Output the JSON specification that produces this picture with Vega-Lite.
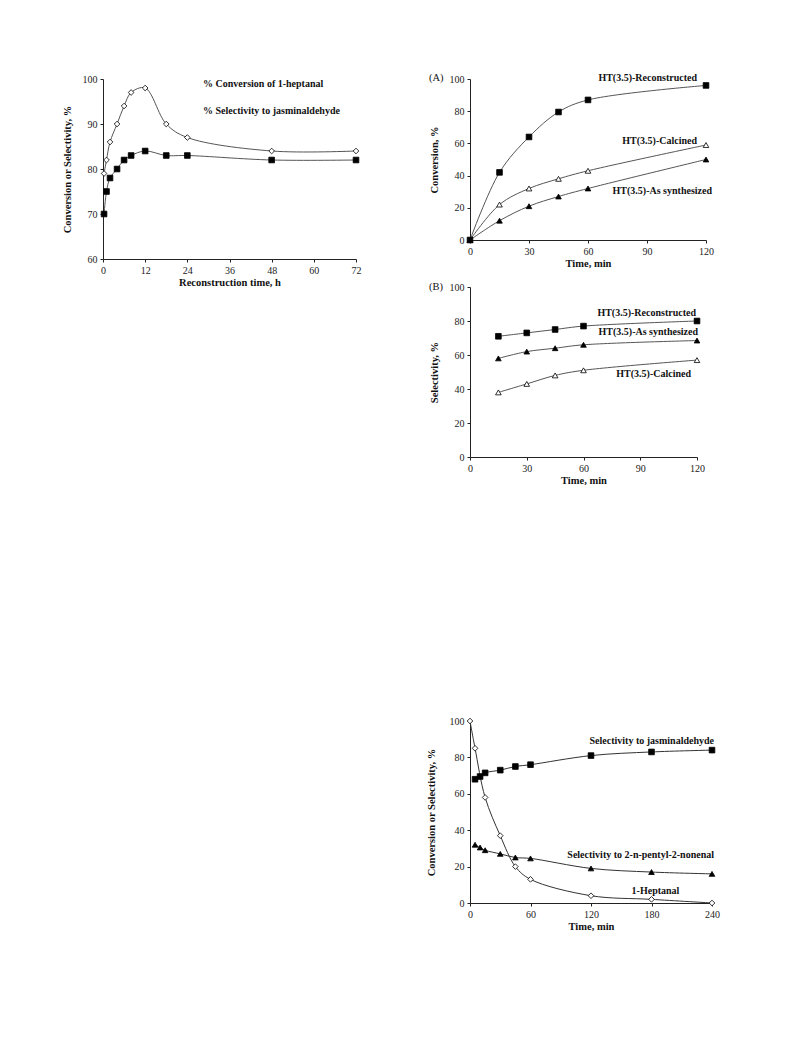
{
  "$schema": "https://vega.github.io/schema/vega-lite/v6.json",
  "background": "white",
  "padding": {"left": 62, "top": 72, "right": 5, "bottom": 5},
  "autosize": {"type": "pad"},
  "config": {
    "view": {"stroke": null},
    "axis": {"grid": false, "domainColor": "#222", "tickColor": "#222", "tickSize": 3, "labelPadding": 3, "labelFont": "Liberation Serif", "labelFontSize": 10, "labelColor": "#222", "labelFlush": false, "labelOverlap": false, "titleFont": "Liberation Serif", "titleFontSize": 10.5, "titleFontWeight": "bold", "titleColor": "#111"},
    "axisX": {"titlePadding": 2},
    "axisY": {"titlePadding": 10},
    "legend": {"orient": "none", "legendX": 76, "legendY": -6, "padding": 0, "symbolSize": 400, "rowPadding": 2, "labelOffset": 3, "labelFont": "Liberation Serif", "labelFontWeight": "bold", "labelFontSize": 10, "labelColor": "#111", "symbolStrokeWidth": 1, "symbolStrokeColor": "black"},
    "text": {"font": "Liberation Serif", "fontWeight": "bold", "fontSize": 10, "color": "#111"},
    "title": {"font": "Liberation Serif", "fontWeight": "normal", "fontSize": 10.5, "color": "#111", "anchor": "start", "frame": "bounds"}
  },
  "resolve": {"scale": {"shape": "independent", "fill": "independent"}, "legend": {"shape": "independent", "fill": "independent"}},
  "datasets": {
    "p1": [
      {"t": 0.3, "v": 79, "s": "% Conversion of 1-heptanal"},
      {"t": 1, "v": 82, "s": "% Conversion of 1-heptanal"},
      {"t": 2, "v": 86, "s": "% Conversion of 1-heptanal"},
      {"t": 4, "v": 90, "s": "% Conversion of 1-heptanal"},
      {"t": 6, "v": 94, "s": "% Conversion of 1-heptanal"},
      {"t": 8, "v": 97, "s": "% Conversion of 1-heptanal"},
      {"t": 12, "v": 98, "s": "% Conversion of 1-heptanal"},
      {"t": 18, "v": 90, "s": "% Conversion of 1-heptanal"},
      {"t": 24, "v": 87, "s": "% Conversion of 1-heptanal"},
      {"t": 48, "v": 84, "s": "% Conversion of 1-heptanal"},
      {"t": 72, "v": 84, "s": "% Conversion of 1-heptanal"},
      {"t": 0.3, "v": 70, "s": "% Selectivity to jasminaldehyde"},
      {"t": 1, "v": 75, "s": "% Selectivity to jasminaldehyde"},
      {"t": 2, "v": 78, "s": "% Selectivity to jasminaldehyde"},
      {"t": 4, "v": 80, "s": "% Selectivity to jasminaldehyde"},
      {"t": 6, "v": 82, "s": "% Selectivity to jasminaldehyde"},
      {"t": 8, "v": 83, "s": "% Selectivity to jasminaldehyde"},
      {"t": 12, "v": 84, "s": "% Selectivity to jasminaldehyde"},
      {"t": 18, "v": 83, "s": "% Selectivity to jasminaldehyde"},
      {"t": 24, "v": 83, "s": "% Selectivity to jasminaldehyde"},
      {"t": 48, "v": 82, "s": "% Selectivity to jasminaldehyde"},
      {"t": 72, "v": 82, "s": "% Selectivity to jasminaldehyde"}
    ],
    "p2": [
      {"t": 0, "v": 0, "s": "HT(3.5)-Reconstructed"},
      {"t": 15, "v": 42, "s": "HT(3.5)-Reconstructed"},
      {"t": 30, "v": 64, "s": "HT(3.5)-Reconstructed"},
      {"t": 45, "v": 79.5, "s": "HT(3.5)-Reconstructed"},
      {"t": 60, "v": 87, "s": "HT(3.5)-Reconstructed"},
      {"t": 120, "v": 96, "s": "HT(3.5)-Reconstructed"},
      {"t": 0, "v": 0, "s": "HT(3.5)-Calcined"},
      {"t": 15, "v": 22, "s": "HT(3.5)-Calcined"},
      {"t": 30, "v": 32, "s": "HT(3.5)-Calcined"},
      {"t": 45, "v": 38, "s": "HT(3.5)-Calcined"},
      {"t": 60, "v": 43, "s": "HT(3.5)-Calcined"},
      {"t": 120, "v": 59, "s": "HT(3.5)-Calcined"},
      {"t": 0, "v": 0, "s": "HT(3.5)-As synthesized"},
      {"t": 15, "v": 12, "s": "HT(3.5)-As synthesized"},
      {"t": 30, "v": 21, "s": "HT(3.5)-As synthesized"},
      {"t": 45, "v": 27, "s": "HT(3.5)-As synthesized"},
      {"t": 60, "v": 32, "s": "HT(3.5)-As synthesized"},
      {"t": 120, "v": 50, "s": "HT(3.5)-As synthesized"}
    ],
    "p3": [
      {"t": 15, "v": 71, "s": "HT(3.5)-Reconstructed"},
      {"t": 30, "v": 73, "s": "HT(3.5)-Reconstructed"},
      {"t": 45, "v": 75, "s": "HT(3.5)-Reconstructed"},
      {"t": 60, "v": 77, "s": "HT(3.5)-Reconstructed"},
      {"t": 120, "v": 80, "s": "HT(3.5)-Reconstructed"},
      {"t": 15, "v": 58, "s": "HT(3.5)-As synthesized"},
      {"t": 30, "v": 62, "s": "HT(3.5)-As synthesized"},
      {"t": 45, "v": 64, "s": "HT(3.5)-As synthesized"},
      {"t": 60, "v": 66, "s": "HT(3.5)-As synthesized"},
      {"t": 120, "v": 68.5, "s": "HT(3.5)-As synthesized"},
      {"t": 15, "v": 38, "s": "HT(3.5)-Calcined"},
      {"t": 30, "v": 43, "s": "HT(3.5)-Calcined"},
      {"t": 45, "v": 48, "s": "HT(3.5)-Calcined"},
      {"t": 60, "v": 51, "s": "HT(3.5)-Calcined"},
      {"t": 120, "v": 57, "s": "HT(3.5)-Calcined"}
    ],
    "p4": [
      {"t": 0, "v": 100, "s": "1-Heptanal"},
      {"t": 5, "v": 85, "s": "1-Heptanal"},
      {"t": 15, "v": 58, "s": "1-Heptanal"},
      {"t": 30, "v": 37, "s": "1-Heptanal"},
      {"t": 45, "v": 20, "s": "1-Heptanal"},
      {"t": 60, "v": 13, "s": "1-Heptanal"},
      {"t": 120, "v": 4, "s": "1-Heptanal"},
      {"t": 180, "v": 2, "s": "1-Heptanal"},
      {"t": 240, "v": 0, "s": "1-Heptanal"},
      {"t": 5, "v": 68, "s": "Selectivity to jasminaldehyde"},
      {"t": 10, "v": 69.5, "s": "Selectivity to jasminaldehyde"},
      {"t": 15, "v": 71.5, "s": "Selectivity to jasminaldehyde"},
      {"t": 30, "v": 73, "s": "Selectivity to jasminaldehyde"},
      {"t": 45, "v": 75, "s": "Selectivity to jasminaldehyde"},
      {"t": 60, "v": 76, "s": "Selectivity to jasminaldehyde"},
      {"t": 120, "v": 81, "s": "Selectivity to jasminaldehyde"},
      {"t": 180, "v": 83, "s": "Selectivity to jasminaldehyde"},
      {"t": 240, "v": 84, "s": "Selectivity to jasminaldehyde"},
      {"t": 5, "v": 32, "s": "Selectivity to 2-n-pentyl-2-nonenal"},
      {"t": 10, "v": 30.5, "s": "Selectivity to 2-n-pentyl-2-nonenal"},
      {"t": 15, "v": 29, "s": "Selectivity to 2-n-pentyl-2-nonenal"},
      {"t": 30, "v": 27, "s": "Selectivity to 2-n-pentyl-2-nonenal"},
      {"t": 45, "v": 25, "s": "Selectivity to 2-n-pentyl-2-nonenal"},
      {"t": 60, "v": 24.5, "s": "Selectivity to 2-n-pentyl-2-nonenal"},
      {"t": 120, "v": 19, "s": "Selectivity to 2-n-pentyl-2-nonenal"},
      {"t": 180, "v": 17, "s": "Selectivity to 2-n-pentyl-2-nonenal"},
      {"t": 240, "v": 16, "s": "Selectivity to 2-n-pentyl-2-nonenal"}
    ]
  },
  "columns": 2,
  "spacing": {"row": 28, "column": 114},
  "bounds": "flush",
  "align": "each",
  "concat": [
    {
      "width": 253, "height": 180,
      "data": {"name": "p1"},
      "encoding": {
        "x": {"field": "t", "type": "quantitative", "scale": {"domain": [0, 72], "nice": false}, "axis": {"values": [0, 12, 24, 36, 48, 60, 72], "title": "Reconstruction time, h"}},
        "y": {"field": "v", "type": "quantitative", "scale": {"domain": [60, 100], "nice": false}, "axis": {"values": [60, 70, 80, 90, 100], "title": "Conversion or Selectivity, %"}}
      },
      "layer": [
        {"mark": {"type": "line", "interpolate": "catmull-rom", "color": "#555", "strokeWidth": 1}, "encoding": {"detail": {"field": "s"}}},
        {"mark": {"type": "point", "filled": true, "stroke": "black", "strokeWidth": 0.8, "size": 32, "opacity": 1},
         "encoding": {
           "shape": {"field": "s", "type": "nominal", "scale": {"domain": ["% Conversion of 1-heptanal", "% Selectivity to jasminaldehyde"], "range": ["diamond", "square"]},
             "legend": {"title": null,
               "encode": {"symbols": {
                 "shape": {"value": {"expr": "datum.value === '% Conversion of 1-heptanal' ? 'M-1,0H-0.25M0.25,0H1M-0.25,0L0,-0.25L0.25,0L0,0.25Z' : 'M-1,0H-0.22M0.22,0H1M-0.22,-0.22H0.22V0.22H-0.22Z'"}},
                 "fill": {"value": {"expr": "datum.value === '% Conversion of 1-heptanal' ? 'white' : 'black'"}},
                 "stroke": {"value": "black"},
                 "strokeWidth": {"value": 1}
               }}}},
           "fill": {"condition": {"test": "datum.s === '% Selectivity to jasminaldehyde'", "value": "black"}, "value": "white"}
         }}
      ]
    },
    {
      "width": 236, "height": 161,
      "title": {"text": "(A)", "offset": -10},
      "data": {"name": "p2"},
      "encoding": {
        "x": {"field": "t", "type": "quantitative", "scale": {"domain": [0, 120], "nice": false}, "axis": {"values": [0, 30, 60, 90, 120], "title": "Time, min"}},
        "y": {"field": "v", "type": "quantitative", "scale": {"domain": [0, 100], "nice": false}, "axis": {"values": [0, 20, 40, 60, 80, 100], "title": "Conversion, %"}}
      },
      "layer": [
        {"mark": {"type": "line", "interpolate": "catmull-rom", "color": "#555", "strokeWidth": 1}, "encoding": {"detail": {"field": "s"}}},
        {"mark": {"type": "point", "filled": true, "stroke": "black", "strokeWidth": 0.8, "size": 32, "opacity": 1},
         "encoding": {
           "shape": {"field": "s", "type": "nominal", "scale": {"domain": ["HT(3.5)-Reconstructed", "HT(3.5)-Calcined", "HT(3.5)-As synthesized"], "range": ["square", "triangle-up", "triangle-up"]}, "legend": null},
           "fill": {"field": "s", "type": "nominal", "scale": {"domain": ["HT(3.5)-Reconstructed", "HT(3.5)-Calcined", "HT(3.5)-As synthesized"], "range": ["black", "white", "black"]}, "legend": null}
         }},
        {"transform": [{"filter": "datum.t == 120 && datum.s == 'HT(3.5)-Reconstructed'"}], "mark": {"type": "text", "align": "right", "baseline": "middle", "dx": -9, "dy": -7}, "encoding": {"text": {"field": "s"}}},
        {"transform": [{"filter": "datum.t == 120 && datum.s == 'HT(3.5)-Calcined'"}], "mark": {"type": "text", "align": "right", "baseline": "middle", "dx": -9, "dy": -4}, "encoding": {"text": {"field": "s"}}},
        {"transform": [{"filter": "datum.t == 120 && datum.s == 'HT(3.5)-As synthesized'"}], "mark": {"type": "text", "align": "right", "baseline": "middle", "dx": 6, "dy": 31}, "encoding": {"text": {"field": "s"}}}
      ]
    },
    {
      "width": 1, "height": 406,
      "data": {"values": []},
      "mark": "point"
    },
    {
      "width": 227, "height": 170,
      "title": {"text": "(B)", "offset": -10},
      "data": {"name": "p3"},
      "encoding": {
        "x": {"field": "t", "type": "quantitative", "scale": {"domain": [0, 120], "nice": false}, "axis": {"values": [0, 30, 60, 90, 120], "title": "Time, min"}},
        "y": {"field": "v", "type": "quantitative", "scale": {"domain": [0, 100], "nice": false}, "axis": {"values": [0, 20, 40, 60, 80, 100], "title": "Selectivity, %"}}
      },
      "layer": [
        {"mark": {"type": "line", "interpolate": "catmull-rom", "color": "#555", "strokeWidth": 1}, "encoding": {"detail": {"field": "s"}}},
        {"mark": {"type": "point", "filled": true, "stroke": "black", "strokeWidth": 0.8, "size": 32, "opacity": 1},
         "encoding": {
           "shape": {"field": "s", "type": "nominal", "scale": {"domain": ["HT(3.5)-Reconstructed", "HT(3.5)-Calcined", "HT(3.5)-As synthesized"], "range": ["square", "triangle-up", "triangle-up"]}, "legend": null},
           "fill": {"field": "s", "type": "nominal", "scale": {"domain": ["HT(3.5)-Reconstructed", "HT(3.5)-Calcined", "HT(3.5)-As synthesized"], "range": ["black", "white", "black"]}, "legend": null}
         }},
        {"transform": [{"filter": "datum.t == 120 && datum.s == 'HT(3.5)-Reconstructed'"}], "mark": {"type": "text", "align": "right", "baseline": "middle", "dx": -1, "dy": -8}, "encoding": {"text": {"field": "s"}}},
        {"transform": [{"filter": "datum.t == 120 && datum.s == 'HT(3.5)-As synthesized'"}], "mark": {"type": "text", "align": "right", "baseline": "middle", "dx": 1, "dy": -8.5}, "encoding": {"text": {"field": "s"}}},
        {"transform": [{"filter": "datum.t == 120 && datum.s == 'HT(3.5)-Calcined'"}], "mark": {"type": "text", "align": "right", "baseline": "middle", "dx": -6, "dy": 14}, "encoding": {"text": {"field": "s"}}}
      ]
    },
    {
      "width": 1, "height": 1,
      "data": {"values": []},
      "mark": "point"
    },
    {
      "width": 242, "height": 182,
      "data": {"name": "p4"},
      "encoding": {
        "x": {"field": "t", "type": "quantitative", "scale": {"domain": [0, 240], "nice": false}, "axis": {"values": [0, 60, 120, 180, 240], "title": "Time, min"}},
        "y": {"field": "v", "type": "quantitative", "scale": {"domain": [0, 100], "nice": false}, "axis": {"values": [0, 20, 40, 60, 80, 100], "title": "Conversion or Selectivity, %", "titlePadding": 13}}
      },
      "layer": [
        {"mark": {"type": "line", "interpolate": "catmull-rom", "color": "#333", "strokeWidth": 1}, "encoding": {"detail": {"field": "s"}}},
        {"mark": {"type": "point", "filled": true, "stroke": "black", "strokeWidth": 0.8, "size": 32, "opacity": 1},
         "encoding": {
           "shape": {"field": "s", "type": "nominal", "scale": {"domain": ["1-Heptanal", "Selectivity to jasminaldehyde", "Selectivity to 2-n-pentyl-2-nonenal"], "range": ["diamond", "square", "triangle-up"]}, "legend": null},
           "fill": {"field": "s", "type": "nominal", "scale": {"domain": ["1-Heptanal", "Selectivity to jasminaldehyde", "Selectivity to 2-n-pentyl-2-nonenal"], "range": ["white", "black", "black"]}, "legend": null}
         }},
        {"transform": [{"filter": "datum.t == 240 && datum.s == 'Selectivity to jasminaldehyde'"}], "mark": {"type": "text", "align": "right", "baseline": "middle", "dx": 2, "dy": -9.5}, "encoding": {"text": {"field": "s"}}},
        {"transform": [{"filter": "datum.t == 240 && datum.s == 'Selectivity to 2-n-pentyl-2-nonenal'"}], "mark": {"type": "text", "align": "right", "baseline": "middle", "dx": 2, "dy": -19}, "encoding": {"text": {"field": "s"}}},
        {"transform": [{"filter": "datum.t == 180 && datum.s == '1-Heptanal'"}], "mark": {"type": "text", "align": "center", "baseline": "middle", "dx": 4, "dy": -8}, "encoding": {"text": {"field": "s"}}}
      ]
    }
  ]
}
